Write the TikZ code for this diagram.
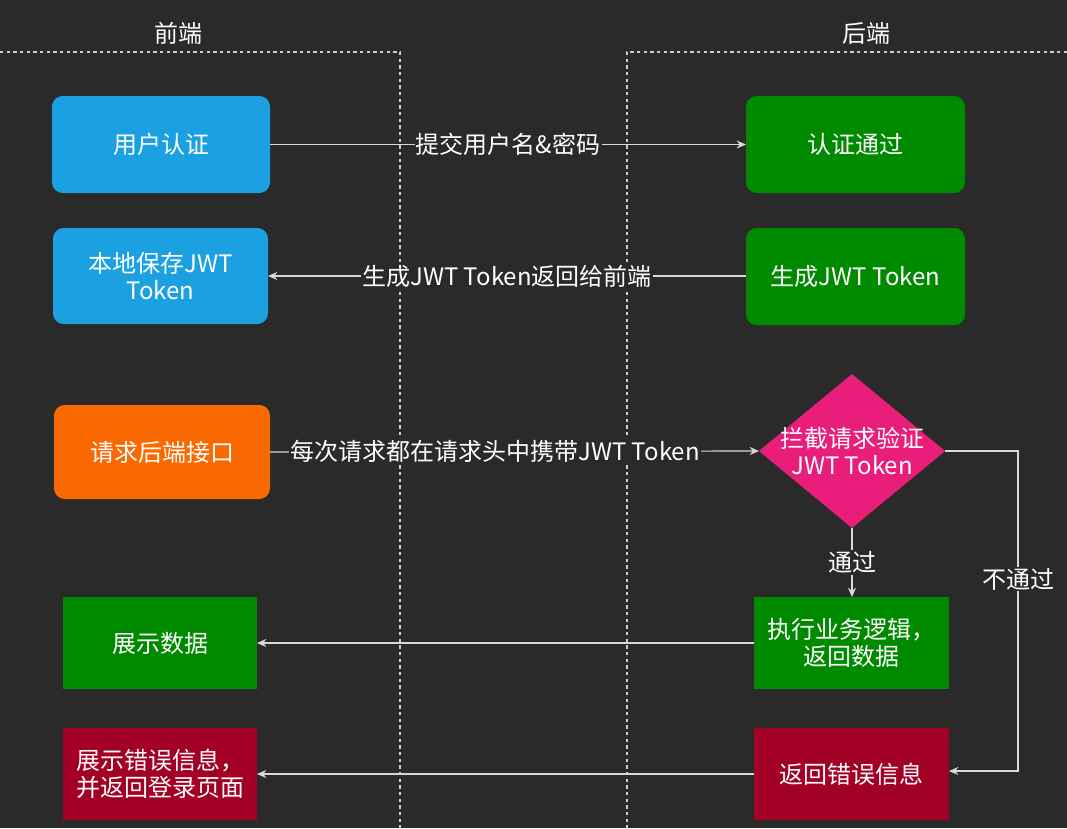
\documentclass[tikz,border=0pt]{standalone}
\usepackage{fontspec}
\setmainfont{Noto Sans CJK SC}
\usetikzlibrary{shapes.geometric,arrows.meta}
\definecolor{bg}{HTML}{2A2A2A}
\definecolor{cblue}{HTML}{1BA1E2}
\definecolor{corange}{HTML}{FA6800}
\definecolor{cgreen}{HTML}{008A00}
\definecolor{cred}{HTML}{A20025}
\definecolor{cpink}{HTML}{E91E7A}
\begin{document}
\begin{tikzpicture}[x=0.75pt,y=-0.75pt,
  box/.style={draw=none,text=white,align=center,font=\fontsize{18}{20}\selectfont,inner sep=0pt},
  rbox/.style={box,rounded corners=8pt},
  lab/.style={fill=bg,text=white,inner sep=1pt,font=\fontsize{18}{20}\selectfont},
  arr/.style={draw=white!85!black,line width=0.9pt,-{Stealth[length=7pt,width=6pt]}},
  dashln/.style={draw=white!80!black,line width=0.8pt,dash pattern=on 2.5pt off 2.5pt}]
\fill[bg] (0,0) rectangle (1067,828);
\useasboundingbox (0,0) rectangle (1067,828);
\draw[dashln] (0,52) -- (400,52) -- (400,828);
\draw[dashln] (1067,52) -- (627,52) -- (627,828);
\node[lab] (hf) at (178,33) {前端};
\node[lab] (hb) at (866,33) {后端};
\path[rbox,fill=cblue] (52,96) rectangle (270,193); \node[box] (a) at (161,144.5) {用户认证};
\path[rbox,fill=cblue] (53,228) rectangle (268,324); \node[box] (b) at (160.5,276) {本地保存JWT\\Token};
\path[rbox,fill=corange] (54,405) rectangle (270,499); \node[box] (c) at (162,452) {请求后端接口};
\path[box,fill=cgreen] (63,597) rectangle (257,689); \node[box] (d) at (160,643) {展示数据};
\path[box,fill=cred] (63,728) rectangle (257,820); \node[box] (e) at (160,774) {展示错误信息，\\并返回登录页面};
\path[rbox,fill=cgreen] (746,96) rectangle (965,193); \node[box] (f) at (855.5,144.5) {认证通过};
\path[rbox,fill=cgreen] (746,228) rectangle (965,325); \node[box] (g) at (855.5,276) {生成JWT Token};
\fill[cpink] (759,451) -- (852,374) -- (945,451) -- (852,528) -- cycle;
\node[box] (h) at (852,451) {拦截请求验证\\JWT Token};
\path[box,fill=cgreen] (754,597) rectangle (949,689); \node[box] (i) at (851.5,643) {执行业务逻辑，\\返回数据};
\path[box,fill=cred] (754,728) rectangle (949,820); \node[box] (j) at (851.5,774) {返回错误信息};
\coordinate (aR) at (270,144.5); \coordinate (fL) at (746,144.5);
\coordinate (gL) at (746,276); \coordinate (bR) at (268,276);
\coordinate (cR) at (270,452); \coordinate (hL) at (759,451);
\coordinate (hB) at (852,528); \coordinate (iT) at (852,597);
\coordinate (hR) at (945,451); \coordinate (k1) at (1018,451); \coordinate (k2) at (1018,771); \coordinate (jR) at (949,771);
\coordinate (iL) at (754,643); \coordinate (dR) at (257,643);
\coordinate (jL) at (754,774); \coordinate (eR) at (257,774);
\draw[arr] (aR) -- node[lab,pos=0.5] {提交用户名\&密码} (fL);
\draw[arr] (gL) -- node[lab,pos=0.5] {生成JWT Token返回给前端} (bR);
\draw[arr] (cR) -- node[lab,pos=0.46] {每次请求都在请求头中携带JWT Token} (hL);
\draw[arr] (hB) -- node[lab,pos=0.5] {通过} (iT);
\draw[arr] (hR) -- (k1) -- node[lab,pos=0.4] {不通过} (k2) -- (jR);
\draw[arr] (iL) -- (dR);
\draw[arr] (jL) -- (eR);
\end{tikzpicture}
\end{document}
